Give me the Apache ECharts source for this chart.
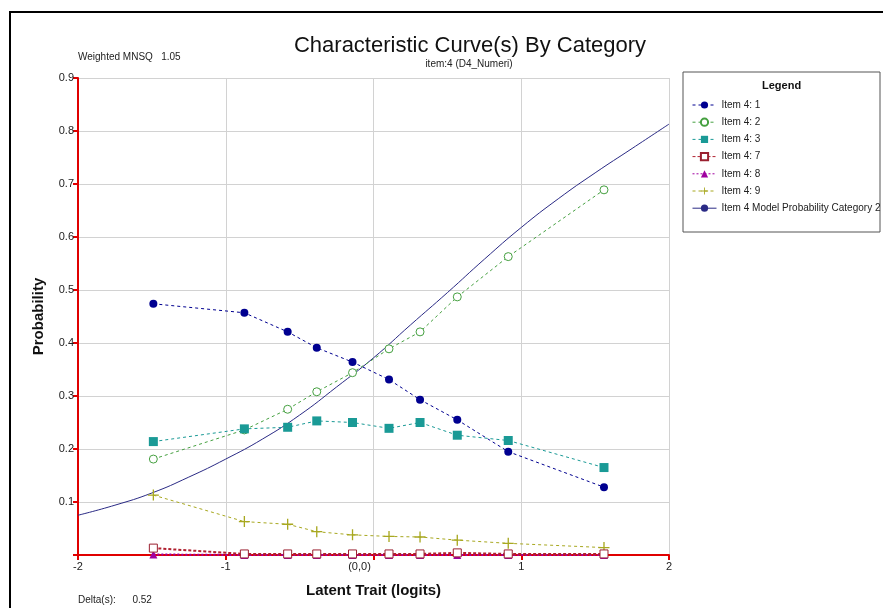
<!DOCTYPE html>
<html>
<head>
<meta charset="utf-8">
<script src="https://cdn.jsdelivr.net/npm/echarts@6/dist/echarts.min.js"></script>
<style>
html,body{margin:0;padding:0;background:#fff;}
#chart{width:883px;height:608px;}
</style>
</head>
<body>
<div id="chart"></div>
<script>
// ---- data ----
const logits = [-1.490, -0.874, -0.581, -0.384, -0.142, 0.105, 0.315, 0.567, 0.912, 1.560];
const item1 = [0.474, 0.457, 0.421, 0.391, 0.364, 0.331, 0.293, 0.255, 0.195, 0.128];
const item2 = [0.181, 0.236, 0.275, 0.308, 0.344, 0.389, 0.421, 0.487, 0.563, 0.689];
const item3 = [0.214, 0.238, 0.241, 0.253, 0.250, 0.239, 0.250, 0.226, 0.216, 0.165];
const item7 = [0.013, 0.002, 0.002, 0.002, 0.002, 0.002, 0.002, 0.004, 0.002, 0.002];
const item8 = [0.001, 0.000, 0.000, 0.000, 0.000, 0.000, 0.000, 0.000, 0.000, 0.000];
const item9 = [0.113, 0.063, 0.058, 0.044, 0.038, 0.035, 0.034, 0.028, 0.022, 0.014];
const modelX = [-2, -1.75, -1.5, -1.25, -1, -0.75, -0.5, -0.25, 0, 0.25, 0.5, 0.75, 1, 1.25, 1.5, 1.75, 2];
const modelY = [0.075, 0.094, 0.117, 0.147, 0.181, 0.219, 0.264, 0.317, 0.372, 0.434, 0.495, 0.558, 0.618, 0.672, 0.721, 0.767, 0.813];
const seriesNames = ['Item 4: 1', 'Item 4: 2', 'Item 4: 3', 'Item 4: 7', 'Item 4: 8', 'Item 4: 9', 'Item 4 Model Probability Category 2'];
const yTicks = [0.1, 0.2, 0.3, 0.4, 0.5, 0.6, 0.7, 0.8, 0.9];

const pair = (xs, ys) => xs.map((x, i) => [x, ys[i]]);
const plus = 'path://M4.4,0h1.2v4.4h4.4v1.2h-4.4v4.4h-1.2v-4.4h-4.4v-1.2h4.4z';

function pts(name, ys, color, symbol, size, filled, extra) {
  return Object.assign({
    name: name, type: 'line', data: pair(logits, ys),
    symbol: symbol, symbolSize: size, showSymbol: true,
    lineStyle: { color: color, width: 1, type: [3, 3] },
    itemStyle: filled ? { color: color } : { color: '#fff', borderColor: color, borderWidth: 1 },
    emphasis: { disabled: true }, animation: false
  }, extra || {});
}

const chart = echarts.init(document.getElementById('chart'), null, { renderer: 'canvas' });
chart.setOption({
  animation: false,
  backgroundColor: '#fff',
  textStyle: { fontFamily: 'Liberation Sans, Arial, sans-serif' },
  title: [
    { text: 'Characteristic Curve(s) By Category', left: 465, top: 30, textAlign: 'center',
      textStyle: { fontSize: 22, fontWeight: 'normal', color: '#111', fontFamily: 'Liberation Sans' } },
    { text: 'item:4 (D4_Numeri)', left: 464, top: 54, textAlign: 'center',
      textStyle: { fontSize: 10, fontWeight: 'normal', color: '#222', fontFamily: 'Liberation Sans' } }
  ],
  grid: { left: 78, right: 214, top: 78, bottom: 53, containLabel: false },
  xAxis: {
    type: 'value', min: -2, max: 2, interval: 1,
    name: 'Latent Trait (logits)', nameLocation: 'middle', nameGap: 28,
    nameTextStyle: { fontSize: 15, fontWeight: 'bold', color: '#111' },
    axisLine: { onZero: false, lineStyle: { color: '#e00000', width: 2 } },
    axisTick: { show: true, length: 5, lineStyle: { color: '#e00000', width: 2 } },
    axisLabel: { color: '#222', fontSize: 11, margin: 6,
      formatter: v => v === 0 ? '{z|(0,0)}' : String(v),
      rich: { z: { fontSize: 11, color: '#222', padding: [0, 28, 0, 0] } } },
    splitLine: { show: true, lineStyle: { color: '#d2d2d2', width: 1 } }
  },
  yAxis: {
    type: 'value', min: 0, max: 0.9, interval: 0.1,
    name: 'Probability', nameLocation: 'middle', nameGap: 32, nameRotate: 90,
    nameTextStyle: { fontSize: 15, fontWeight: 'bold', color: '#111' },
    axisLine: { show: true, onZero: false, lineStyle: { color: '#e00000', width: 2 } },
    axisTick: { show: true, length: 5, lineStyle: { color: '#e00000', width: 2 } },
    axisLabel: { color: '#222', fontSize: 11, margin: 4,
      formatter: v => (yTicks.some(t => Math.abs(t - v) < 1e-6) ? v.toFixed(1) : '') },
    splitLine: { show: true, lineStyle: { color: '#d2d2d2', width: 1 } }
  },
  legend: {
    orient: 'vertical', left: 687, top: 95, itemGap: 7.2, itemWidth: 24, itemHeight: 9,
    data: seriesNames,
    lineStyle: { width: 1 },
    textStyle: { fontSize: 10, color: '#222', padding: [0, 0, 0, 0] },
    selectedMode: false
  },
  graphic: [
    { type: 'rect', shape: { x: 10, y: 12, width: 900, height: 620 },
      style: { fill: 'none', stroke: '#000', lineWidth: 2 }, silent: true, z: -1 },
    { type: 'rect', shape: { x: 683, y: 72, width: 197, height: 160 },
      style: { fill: '#fff', stroke: '#555', lineWidth: 1 }, silent: true, z: -1 },
    { type: 'text', left: 762, top: 80,
      style: { text: 'Legend', font: 'bold 11px Liberation Sans', fill: '#111' } },
    { type: 'text', left: 78, top: 52,
      style: { text: 'Weighted MNSQ   1.05', font: '10px Liberation Sans', fill: '#222' } },
    { type: 'text', left: 78, top: 595,
      style: { text: 'Delta(s):      0.52', font: '10px Liberation Sans', fill: '#222' } }
  ],
  series: [
    { name: seriesNames[6], type: 'line', data: pair(modelX, modelY), smooth: 0.5,
      symbol: 'none', showSymbol: false,
      lineStyle: { color: '#2a2a85', width: 1 }, itemStyle: { color: '#2a2a85' },
      emphasis: { disabled: true }, z: 2 },
    pts(seriesNames[0], item1, '#000090', 'circle', 8, true, { z: 3 }),
    pts(seriesNames[1], item2, '#45a040', 'circle', 8, false, { z: 3 }),
    pts(seriesNames[2], item3, '#1a9a96', 'rect', 9, true, { z: 3 }),
    pts(seriesNames[5], item9, '#a8a820', plus, 11, true, { z: 3 }),
    pts(seriesNames[4], item8, '#a000a0', 'triangle', 8, true, { z: 4, lineStyle: { color: '#a000a0', width: 2, type: [2, 2] } }),
    pts(seriesNames[3], item7, '#9a2030', 'rect', 8, false, { z: 5, lineStyle: { color: '#b02030', width: 2, type: [3, 2] } })
  ]
});
</script>
</body>
</html>
